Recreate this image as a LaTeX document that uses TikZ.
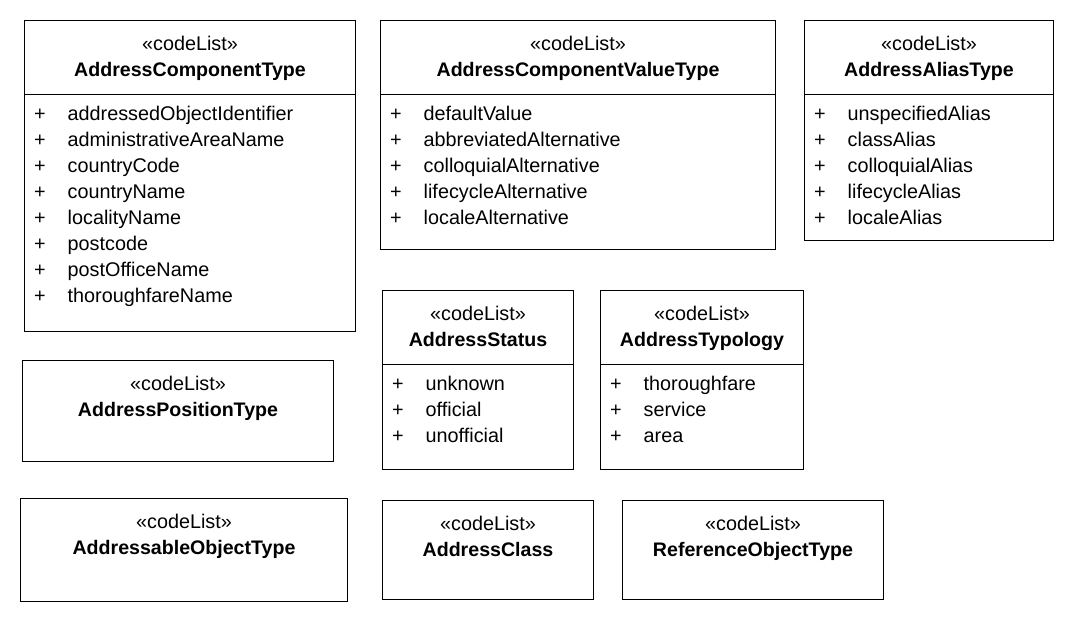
\documentclass[tikz,border=0pt]{standalone}
\usepackage{fontspec}
\setmainfont{Liberation Sans}
\usetikzlibrary{calc}
\newcommand\fsz{\fontsize{19.8}{26}\selectfont}
\newcommand\fszb{\fontsize{19.6}{26}\selectfont}
\tikzset{
  cls/.style={draw, line width=1pt, anchor=north west, inner sep=0pt, outer sep=0pt},
  stereo/.style={anchor=base, font=\fsz, inner sep=0pt},
  cname/.style={anchor=base, font=\fszb\bfseries, inner sep=0pt},
  attrtext/.style={anchor=base west, font=\fsz, inner sep=0pt},
  divline/.style={line width=1pt}
}
% name, x, y, w, h, title
\newcommand\clsempty[6]{%
  \node[cls, minimum width=#4pt, minimum height=#5pt] (#1) at (#2,#3) {};
  \node[stereo] (#1-s) at ({#2+#4/2},{#3+30}) {«codeList»};
  \node[cname] (#1-n) at ({#2+#4/2},{#3+56}) {#6};
}
% name, x, y, w, h, title, attributes
\newcommand\clsattrs[7]{%
  \clsempty{#1}{#2}{#3}{#4}{#5}{#6}
  \coordinate (#1-dl) at (#2,{#3+74});
  \coordinate (#1-dr) at ({#2+#4},{#3+74});
  \draw[divline] (#1-dl) -- (#1-dr);
  \foreach \t [count=\i] in {#7} {
    \node[attrtext] (#1-p\i) at ({#2+9.5},{#3+74+25.5+26*(\i-1)}) {+};
    \node[attrtext] (#1-a\i) at ({#2+43},{#3+74+25.5+26*(\i-1)}) {\t};
  }
}
\begin{document}
\begin{tikzpicture}[x=1pt,y=-1pt]
\fill[white] (0,0) rectangle (1074,622);
\useasboundingbox (0,0) rectangle (1074,622);

\clsattrs{act}{24.5}{20.5}{331}{310.5}{AddressComponentType}
  {addressedObjectIdentifier,administrativeAreaName,countryCode,countryName,localityName,postcode,postOfficeName,thoroughfareName}
\clsattrs{acvt}{380.5}{20.5}{395}{228.5}{AddressComponentValueType}
  {defaultValue,abbreviatedAlternative,colloquialAlternative,lifecycleAlternative,localeAlternative}
\clsattrs{aat}{804.5}{20.5}{249}{220}{AddressAliasType}
  {unspecifiedAlias,classAlias,colloquialAlias,lifecycleAlias,localeAlias}
\clsempty{apt}{22.5}{360.5}{311}{101}{AddressPositionType}
\clsattrs{ast}{382.5}{290.5}{191}{178.5}{AddressStatus}
  {unknown,official,unofficial}
\clsattrs{aty}{600.5}{290.5}{203}{178.5}{AddressTypology}
  {thoroughfare,service,area}
\clsempty{aot}{20.5}{498.5}{327}{102.5}{AddressableObjectType}
\clsempty{acl}{382.5}{500}{211}{99}{AddressClass}
\clsempty{rot}{622.5}{500}{261}{99}{ReferenceObjectType}
\end{tikzpicture}
\end{document}
